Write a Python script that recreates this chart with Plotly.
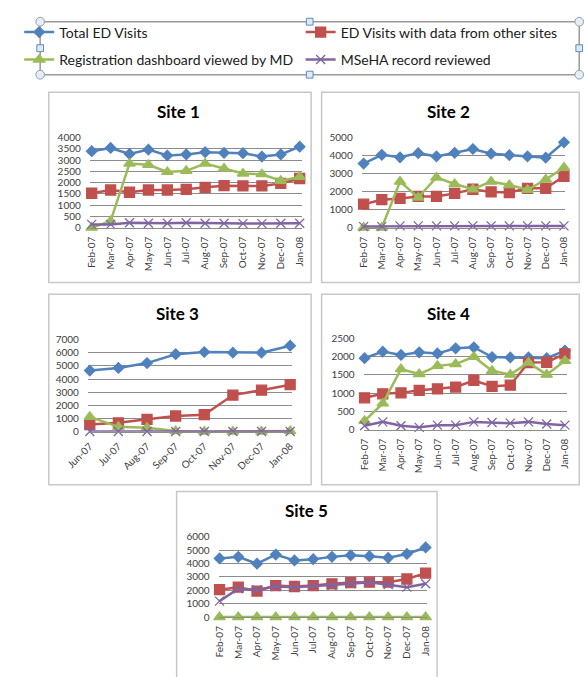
import plotly.graph_objects as go

W, H = 588, 677

# ---------------- data ----------------
months12 = ["Feb-07", "Mar-07", "Apr-07", "May-07", "Jun-07", "Jul-07",
            "Aug-07", "Sep-07", "Oct-07", "Nov-07", "Dec-07", "Jan-08"]
months8 = ["Jun-07", "Jul-07", "Aug-07", "Sep-07", "Oct-07", "Nov-07", "Dec-07", "Jan-08"]

series_names = ["Total ED Visits", "ED Visits with data from other sites",
                "Registration dashboard viewed by MD", "MSeHA record reviewed"]

s1_total = [3390, 3535, 3270, 3460, 3200, 3245, 3345, 3315, 3300, 3155, 3245, 3590]
s1_other = [1527, 1670, 1570, 1670, 1670, 1700, 1790, 1860, 1850, 1850, 1960, 2180]
s1_dash = [0, 290, 2840, 2790, 2470, 2520, 2840, 2620, 2400, 2370, 2080, 2250]
s1_mseha = [145, 145, 220, 200, 200, 220, 200, 200, 180, 180, 200, 200]

s2_total = [3550, 4040, 3900, 4130, 3950, 4150, 4360, 4100, 4020, 3950, 3880, 4730]
s2_other = [1300, 1550, 1620, 1730, 1730, 1900, 2130, 1980, 1950, 2180, 2180, 2850]
s2_dash = [0, 0, 2550, 1670, 2780, 2420, 2130, 2550, 2360, 2100, 2670, 3330]
s2_mseha = [60, 60, 100, 100, 100, 100, 100, 100, 100, 100, 100, 100]

s3_total = [4640, 4840, 5210, 5880, 6050, 6000, 6000, 6530]
s3_other = [545, 670, 940, 1190, 1290, 2780, 3150, 3570]
s3_dash = [1120, 370, 300, 50, 0, 0, 0, 50]
s3_mseha = [20, 20, 20, 20, 20, 20, 20, 20]

s4_total = [1960, 2140, 2050, 2120, 2090, 2230, 2260, 1990, 1980, 1980, 1960, 2170]
s4_other = [875, 985, 1010, 1080, 1120, 1170, 1350, 1190, 1220, 1840, 1850, 2080]
s4_dash = [245, 720, 1660, 1525, 1750, 1800, 2000, 1615, 1510, 1840, 1510, 1890]
s4_mseha = [110, 215, 110, 65, 125, 125, 215, 200, 180, 215, 155, 125]

s5_total = [4370, 4490, 3980, 4660, 4220, 4320, 4490, 4610, 4540, 4420, 4710, 5190]
s5_other = [2040, 2230, 1940, 2350, 2280, 2350, 2480, 2570, 2600, 2600, 2840, 3280]
s5_dash = [0, 0, 0, 0, 0, 0, 0, 0, 0, 0, 0, 0]
s5_mseha = [1190, 2110, 2040, 2280, 2230, 2310, 2350, 2480, 2600, 2430, 2230, 2480]

site_titles = ["Site 1", "Site 2", "Site 3", "Site 4", "Site 5"]
y_max = [4000, 5000, 7000, 2500, 6000]
y_dtick = [500, 1000, 1000, 500, 1000]

# ---------------- styles ----------------
colors = ["#4F81BD", "#C0504D", "#9BBB59", "#8064A2"]
symbols = ["diamond", "square", "triangle-up", "x-thin"]
msizes = [8, 10, 10, 9]
FONT = "Lato, Open Sans, sans-serif"

# panel boxes (px): x0, y0, x1, y1
panels = [(27, 87, 302, 281), (313, 87, 583, 281), (27, 293, 302, 487),
          (313, 293, 583, 487), (161, 494, 434, 690)]
# plot areas (px): grid x0, x1, first pt, last pt, y top (max), y bottom (0)
areas = [(70, 292, 72, 290, 133, 225), (355, 568, 357, 567, 133, 225),
         (68, 282, 70, 280, 339, 433), (357, 570, 358, 568, 338, 431),
         (205, 423, 206, 422, 540, 622)]
title_pos = [(163, 107), (446, 107), (162, 312), (446, 312), (297, 513)]
tick_angles = [-90, -90, -45, -90, -90]

sites = [
    (months12, [s1_total, s1_other, s1_dash, s1_mseha]),
    (months12, [s2_total, s2_other, s2_dash, s2_mseha]),
    (months8, [s3_total, s3_other, s3_dash, s3_mseha]),
    (months12, [s4_total, s4_other, s4_dash, s4_mseha]),
    (months12, [s5_total, s5_other, s5_dash, s5_mseha]),
]

def fx(x):
    return x / W

def fy(y):
    return 1 - y / H

fig = go.Figure()
legend_ids = ["legend", "legend2", "legend3", "legend4"]

for i, (cats, vals) in enumerate(sites):
    ax = "" if i == 0 else str(i + 1)
    for k in range(4):
        fig.add_trace(go.Scatter(
            x=cats, y=vals[k], name=series_names[k],
            mode="lines+markers",
            line=dict(color=colors[k], width=2.5),
            marker=dict(symbol=symbols[k], size=msizes[k], color=colors[k],
                        line=dict(color=colors[k], width=1.3)),
            cliponaxis=False,
            showlegend=(i == 0), legend=legend_ids[k],
            xaxis="x" + ax, yaxis="y" + ax,
        ))
    gx0, gx1, p0, p1, yt, yb = areas[i]
    n = len(cats)
    step = (p1 - p0) / (n - 1)
    rng = [-(p0 - gx0) / step, (n - 1) + (gx1 - p1) / step]
    fig.layout["xaxis" + ax] = dict(
        domain=[fx(gx0), fx(gx1)], anchor="y" + ax, type="category",
        range=rng, tickangle=tick_angles[i], showgrid=False, zeroline=False,
        showline=True, linecolor="#8c8c8c", linewidth=1, ticks="",
        tickfont=dict(family=FONT, size=10, color="#404040"),
        ticklabelstandoff=4,
    )
    fig.layout["yaxis" + ax] = dict(
        domain=[fy(yb), fy(yt)], anchor="x" + ax, range=[0, y_max[i]],
        dtick=y_dtick[i], showgrid=True, gridcolor="#8c8c8c", gridwidth=1,
        zeroline=False, showline=False, ticks="",
        tickfont=dict(family=FONT, size=10, color="#404040"),
        ticklabelstandoff=8,
    )

shapes = []
for (x0, y0, x1, y1) in panels:
    shapes.append(dict(type="rect", xref="paper", yref="paper",
                       x0=fx(x0), x1=fx(x1), y0=fy(y1), y1=fy(y0),
                       line=dict(color="#c8c8c8", width=1.5), layer="below"))

# legend frame with selection handles
LX0, LY0, LX1, LY1 = 18, 15, 583, 69
shapes.append(dict(type="rect", xref="paper", yref="paper",
                   x0=fx(LX0), x1=fx(LX1), y0=fy(LY1), y1=fy(LY0),
                   line=dict(color="#9a9a9a", width=1.5)))
r = 4.5
for (cx, cy) in [(LX0, LY0), (LX1, LY0), (LX0, LY1), (LX1, LY1)]:
    shapes.append(dict(type="circle", xref="paper", yref="paper",
                       x0=fx(cx - r), x1=fx(cx + r), y0=fy(cy + r), y1=fy(cy - r),
                       line=dict(color="#8aa0b5", width=1), fillcolor="#e6edf3"))
s = 3.5
for (cx, cy) in [((LX0 + LX1) / 2, LY0), ((LX0 + LX1) / 2, LY1), (LX0, (LY0 + LY1) / 2),
                 (LX1, (LY0 + LY1) / 2)]:
    shapes.append(dict(type="rect", xref="paper", yref="paper",
                       x0=fx(cx - s), x1=fx(cx + s), y0=fy(cy + s), y1=fy(cy - s),
                       line=dict(color="#5f8ab5", width=1), fillcolor="#dcebf7"))

annotations = []
for i, t in enumerate(site_titles):
    tx, ty = title_pos[i]
    annotations.append(dict(text="<b>" + t + "</b>", x=fx(tx), y=fy(ty),
                            xref="paper", yref="paper", showarrow=False,
                            xanchor="center", yanchor="middle",
                            font=dict(family=FONT, size=17, color="#000000")))

leg_common = dict(orientation="h", xanchor="left", yanchor="middle",
                  bgcolor="rgba(0,0,0,0)", borderwidth=0,
                  font=dict(family=FONT, size=14, color="#202020"),
                  itemwidth=30)
leg_pos = [(-4, 26), (291, 26), (-4, 54), (291, 54)]
layout_legends = {}
for k, lid in enumerate(legend_ids):
    lx, ly = leg_pos[k]
    layout_legends[lid] = dict(leg_common, x=fx(lx), y=fy(ly))

fig.update_layout(
    width=W, height=H, autosize=False,
    margin=dict(l=0, r=0, t=0, b=0),
    paper_bgcolor="white", plot_bgcolor="white",
    shapes=shapes, annotations=annotations,
    **layout_legends,
)

fig.write_html("out.html")
